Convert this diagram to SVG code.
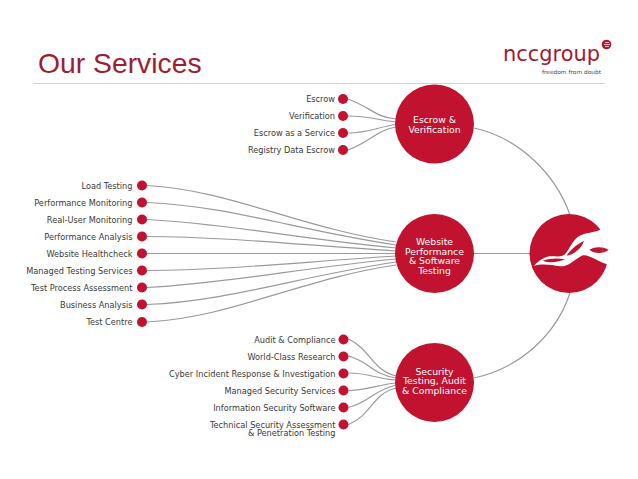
<svg xmlns="http://www.w3.org/2000/svg" width="638" height="479" viewBox="0 0 638 479">
<style>
.l{font-family:"DejaVu Sans",sans-serif;font-size:8.2px;fill:#3a3a3a;text-anchor:end}
.n{font-family:"DejaVu Sans",sans-serif;font-size:9.3px;fill:#fff;text-anchor:middle}
.c{fill:none;stroke:#9a9a9a;stroke-width:1.2}
.r{fill:#c1122f}
.d{fill:#c1122f}
</style>
<rect width="638" height="479" fill="#fff"/>
<text x="38" y="72.500" font-family="Liberation Sans,sans-serif" font-size="28.300" fill="#a01c30">Our Services</text>
<line x1="33" y1="83.500" x2="605" y2="83.500" stroke="#d2d2d2" stroke-width="1"/>
<g id="brand">
<text x="503" y="61" font-family="DejaVu Sans,sans-serif" font-size="21" fill="#a3182f" textLength="97" lengthAdjust="spacingAndGlyphs">nccgroup</text>
<circle cx="606.500" cy="44.500" r="4.800" fill="#b5142e"/>
<path d="M604 44.500h6M605 42.500h4M605 46.500h4" stroke="#fff" stroke-width=".7"/>
<text x="601" y="74" font-family="DejaVu Sans,sans-serif" font-size="5.500" fill="#444" text-anchor="end" textLength="59" lengthAdjust="spacingAndGlyphs">freedom from doubt</text>
</g>
<g id="connectors">
<path class="c" d="M348,99 C372,108 375,117 396,119"/>
<path class="c" d="M348,116 C368,116 378,120 396,122"/>
<path class="c" d="M348,133 C368,133 378,127 396,124.500"/>
<path class="c" d="M348,150 C372,141 375,131 396,127"/>
<path class="c" d="M147,185.500 C230,190 300,228 396,242"/>
<path class="c" d="M147,202.500 C230,206 300,231 396,245"/>
<path class="c" d="M147,219.500 C230,224 300,239 396,248"/>
<path class="c" d="M147,236.500 C230,237 300,245 396,251"/>
<path class="c" d="M147,253.500 L396,253.500"/>
<path class="c" d="M147,270.500 C230,270 300,262 396,256"/>
<path class="c" d="M147,287.500 C230,283 300,268 396,259"/>
<path class="c" d="M147,304.500 C230,301 300,276 396,262"/>
<path class="c" d="M147,322 C230,318 300,279 396,265"/>
<path class="c" d="M348.500,339 C370,349 372,370 396,376"/>
<path class="c" d="M348.500,356 C370,362 372,374 396,378"/>
<path class="c" d="M348.500,373 C370,373 376,379 396,380"/>
<path class="c" d="M348.500,390.500 C370,390 376,385 396,383"/>
<path class="c" d="M348.500,407.500 C370,402 372,391 396,385"/>
<path class="c" d="M348.500,424.500 C372,415 372,394 396,388"/>
<path class="c" d="M474,253.500 L530,253.500"/>
<path class="c" d="M474,128 C520,138 556,175 570,215"/>
<path class="c" d="M570,293 C556,335 520,368 474,378"/>
</g>
<g id="escrow-verification"><circle class="r" cx="434.500" cy="124" r="39.500"/><text class="n" x="434.500" y="123">Escrow &amp;</text><text class="n" x="434.500" y="132.500">Verification</text></g>
<g id="website-performance"><circle class="r" cx="434.500" cy="253.500" r="39.500"/><text class="n" x="434.500" y="245">Website</text><text class="n" x="434.500" y="254.500">Performance</text><text class="n" x="434.500" y="264">&amp; Software</text><text class="n" x="434.500" y="273.500">Testing</text></g>
<g id="security-testing"><circle class="r" cx="434.500" cy="382.500" r="39.500"/><text class="n" x="434.500" y="374.500">Security</text><text class="n" x="434.500" y="384">Testing, Audit</text><text class="n" x="434.500" y="393.500">&amp; Compliance</text></g>
<g id="ncc-logo">
<circle class="r" cx="569" cy="253.500" r="39.500"/>
<g transform="translate(520,205) scale(.3333)">
<path fill="#fff" d="M245,72 C225,85 195,80 172,97 C155,112 150,130 135,148 C120,160 100,150 82,155 C65,160 50,172 42,183 C65,175 95,180 120,184 C145,186 160,165 185,152 C205,145 235,172 264,178 L290,120 L270,60 Z"/>
<path class="r" d="M140,152 C150,135 170,118 192,108 C185,128 165,148 140,152 Z"/>
<path class="r" d="M68,167 C90,160 110,158 135,163 C115,172 90,175 68,167 Z"/>
<path class="r" d="M208,134 C225,124 248,124 266,134 C250,146 225,148 208,134 Z"/>
<path fill="none" stroke="#bbb" stroke-width="1.500" stroke-dasharray="3 3" d="M232,85 C245,105 250,125 248,145"/>
</g>
</g>
<g id="escrow-items">
<g id="i1"><circle class="d" cx="343" cy="99" r="5"/><text class="l" x="335" y="102">Escrow</text></g>
<g id="i2"><circle class="d" cx="343" cy="116" r="5"/><text class="l" x="335" y="119">Verification</text></g>
<g id="i3"><circle class="d" cx="343" cy="133" r="5"/><text class="l" x="335" y="136">Escrow as a Service</text></g>
<g id="i4"><circle class="d" cx="343" cy="150" r="5"/><text class="l" x="335" y="153">Registry Data Escrow</text></g>
</g>
<g id="website-items">
<g id="w1"><circle class="d" cx="142" cy="185.500" r="5"/><text class="l" x="132.500" y="188.500">Load Testing</text></g>
<g id="w2"><circle class="d" cx="142" cy="202.500" r="5"/><text class="l" x="132.500" y="205.500">Performance Monitoring</text></g>
<g id="w3"><circle class="d" cx="142" cy="219.500" r="5"/><text class="l" x="132.500" y="222.500">Real-User Monitoring</text></g>
<g id="w4"><circle class="d" cx="142" cy="236.500" r="5"/><text class="l" x="132.500" y="239.500">Performance Analysis</text></g>
<g id="w5"><circle class="d" cx="142" cy="253.500" r="5"/><text class="l" x="132.500" y="256.500">Website Healthcheck</text></g>
<g id="w6"><circle class="d" cx="142" cy="270.500" r="5"/><text class="l" x="132.500" y="273.500">Managed Testing Services</text></g>
<g id="w7"><circle class="d" cx="142" cy="287.500" r="5"/><text class="l" x="132.500" y="290.500">Test Process Assessment</text></g>
<g id="w8"><circle class="d" cx="142" cy="304.500" r="5"/><text class="l" x="132.500" y="307.500">Business Analysis</text></g>
<g id="w9"><circle class="d" cx="142" cy="322" r="5"/><text class="l" x="132.500" y="325">Test Centre</text></g>
</g>
<g id="security-items">
<g id="s1"><circle class="d" cx="343.500" cy="339.500" r="5"/><text class="l" x="335.500" y="342.500">Audit &amp; Compliance</text></g>
<g id="s2"><circle class="d" cx="343.500" cy="356.500" r="5"/><text class="l" x="335.500" y="359.500">World-Class Research</text></g>
<g id="s3"><circle class="d" cx="343.500" cy="373.500" r="5"/><text class="l" x="335.500" y="376.500">Cyber Incident Response &amp; Investigation</text></g>
<g id="s4"><circle class="d" cx="343.500" cy="390.500" r="5"/><text class="l" x="335.500" y="393.500">Managed Security Services</text></g>
<g id="s5"><circle class="d" cx="343.500" cy="407.500" r="5"/><text class="l" x="335.500" y="410.500">Information Security Software</text></g>
<g id="s6"><circle class="d" cx="343.500" cy="424.500" r="5"/><text class="l" x="335.500" y="427.500">Technical Security Assessment</text><text class="l" x="335.500" y="436">&amp; Penetration Testing</text></g>
</g>
</svg>
